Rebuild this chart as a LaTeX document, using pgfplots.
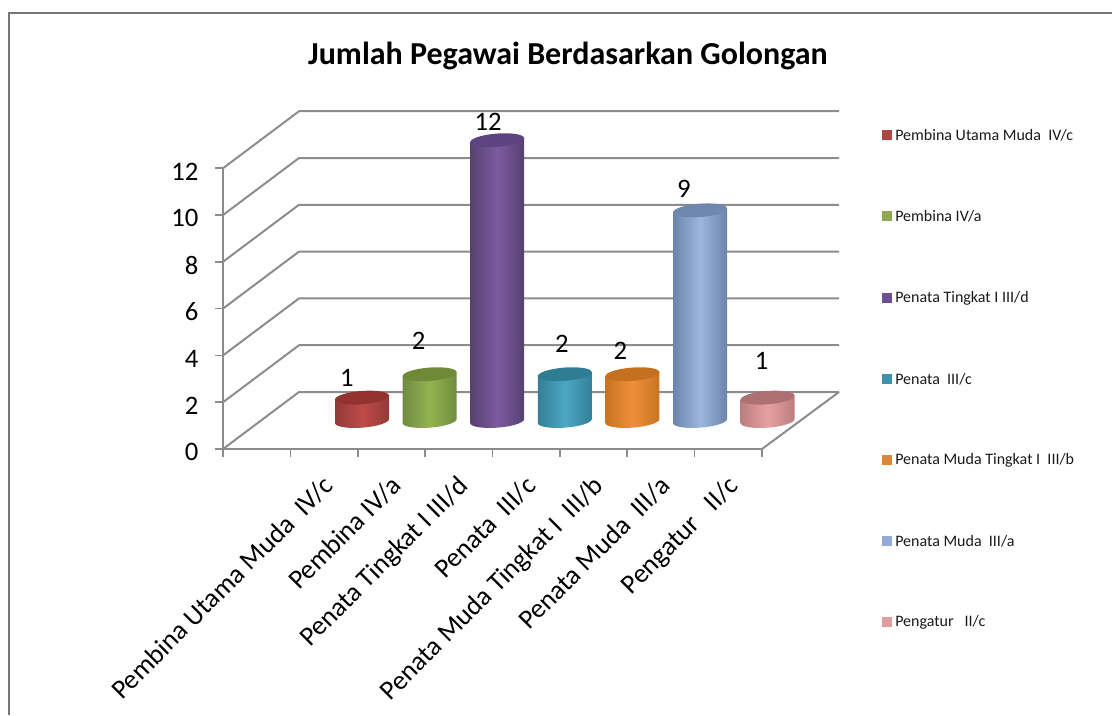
\documentclass[border=0pt]{standalone}
\usepackage{pgfplots}
\pgfplotsset{compat=1.18}
\usepackage{fontspec}
\setmainfont{Carlito}
\definecolor{gridg}{HTML}{8C8C8C}
% a cylinder mark: #2 = the value of the bar (17.55pt per unit), drawn from the plotted point down to zero
\newcommand\defcyl[5]{%
  \definecolor{e#1}{HTML}{#3}\definecolor{m#1}{HTML}{#4}\definecolor{c#1}{HTML}{#5}%
  \pgfdeclarehorizontalshading{sh#1}{100bp}{color(0bp)=(e#1); color(25bp)=(e#1); color(50bp)=(m#1); color(75bp)=(e#1); color(100bp)=(e#1)}%
  \pgfdeclareplotmark{cyl#1}{%
    \pgfmathsetlengthmacro\hh{#2*17.55}%
    \pgfscope
    \pgfpathmoveto{\pgfqpoint{-20.25pt}{\dimexpr-\hh-1.486pt\relax}}%
    \pgfpathcurveto{\pgfqpoint{-20.25pt}{\dimexpr-\hh-4.246pt\relax}}{\pgfqpoint{-11.18pt}{\dimexpr-\hh-5.82pt\relax}}{\pgfqpoint{0pt}{\dimexpr-\hh-5pt\relax}}%
    \pgfpathcurveto{\pgfqpoint{11.18pt}{\dimexpr-\hh-4.18pt\relax}}{\pgfqpoint{20.25pt}{\dimexpr-\hh-1.274pt\relax}}{\pgfqpoint{20.25pt}{\dimexpr-\hh+1.486pt\relax}}%
    \pgfpathlineto{\pgfqpoint{20.25pt}{1.486pt}}%
    \pgfpathlineto{\pgfqpoint{-20.25pt}{-1.486pt}}%
    \pgfpathclose
    \pgfshadepath{sh#1}{0}%
    \pgfusepath{discard}%
    \endpgfscope
    \pgfscope
    \pgfpathellipse{\pgfpointorigin}{\pgfqpoint{20.25pt}{1.486pt}}{\pgfqpoint{0pt}{5pt}}%
    \pgfsetfillcolor{c#1}\pgfusepath{fill}%
    \endpgfscope
  }%
}
\defcyl{a}{1}{923A38}{BE4B48}{94322F}
\defcyl{b}{2}{708B40}{93B350}{6F8A37}
\defcyl{c}{12}{55416F}{7D5AA0}{5D4380}
\defcyl{d}{2}{347F97}{4BA7C4}{2F7D95}
\defcyl{e}{2}{C87323}{EE9038}{C4701F}
\defcyl{f}{9}{6A85AC}{9DB8DE}{6F87AD}
\defcyl{g}{1}{BA7E7F}{E8A0A2}{AE7072}
\pgfplotsset{
  cyl/.style n args={3}{only marks,mark=cyl#1,point meta=y,
     nodes near coords,
     every node near coord/.append style={anchor=center,xshift=#2*0.75pt,yshift=#3*0.75pt,
       font=\fontsize{20}{20}\selectfont,text=black,inner sep=0pt}},
}
\begin{document}
\begin{tikzpicture}
\begin{scope}[x=0.75pt,y=-0.75pt]
\path[use as bounding box] (0,0) rectangle (1112,715);
\draw[gridg!85!black,line width=1.5pt] (8.5,715) -- (8.5,12.5) -- (1112,12.5);
\foreach \v in {0,...,6}{
  \draw[gridg,line width=1.5pt] (223,{449-46.8*\v}) -- (299,{392-46.8*\v}) -- (839,{392-46.8*\v});
}
\draw[gridg,line width=1.5pt] (762,449) -- (839,392);
\node[font=\fontsize{24}{24}\selectfont\bfseries] at (568,56) {Jumlah Pegawai Berdasarkan Golongan};
\foreach \yy/\cc/\tt in {135/B04644/{Pembina Utama Muda\ \ IV/c},216/8DAA52/{Pembina IV/a},298/6F4E93/{Penata Tingkat I III/d},379/3C93AE/{Penata\ \ III/c},460/E2862F/{Penata Muda Tingkat I\ \ III/b},541/92ABD6/{Penata Muda\ \ III/a},622/E09C9E/{Pengatur\ \ \ II/c}}{
  \definecolor{lg}{HTML}{\cc}
  \fill[lg] (882,\yy-5) rectangle (892,\yy+5);
  \node[anchor=west,inner sep=0pt,font=\fontsize{12}{12}\selectfont,text=black!90] at (895,\yy) {\tt};
}
\end{scope}
\begin{axis}[
  at={(223*0.75pt,-449*0.75pt)},anchor=south west,
  scale only axis,width=404.25pt,height=210.6pt,
  xmin=0,xmax=8,ymin=0,ymax=12,
  axis lines*=left,
  axis line style={gridg,line width=1.5pt,-},
  xtick={0,1,2,3,4,5,6,7,8},
  xticklabels={},
  extra x ticks={1.5,2.5,3.5,4.5,5.5,6.5,7.5},
  extra x tick labels={{Pembina Utama Muda\ \ IV/c},{Pembina IV/a},{Penata Tingkat I III/d},{Penata\ \ III/c},{Penata Muda Tingkat I\ \ III/b},{Penata Muda\ \ III/a},{Pengatur\ \ \ II/c}},
  extra x tick style={major tick length=0pt,
    xticklabel style={rotate=45,anchor=north east,inner sep=0pt,xshift=-14.5pt,yshift=-12pt,font=\fontsize{20.3}{20.3}\selectfont}},
  major tick length=6pt,
  tick align=outside,
  xtick style={gridg,line width=1.2pt},
  ytick={0,2,4,6,8,10,12},
  ytick style={gridg,line width=1.2pt},
  tick label style={font=\fontsize{20}{20}\selectfont},
  /pgf/number format/assume math mode=true,
  yticklabel style={xshift=-9pt,yshift=-2.5pt},
  clip=false,
]
\end{axis}
\begin{axis}[
  at={(362*0.75pt,-421*0.75pt)},anchor=south west,
  scale only axis,width=304.2pt,height=210.6pt,
  xmin=0,xmax=6,ymin=0,ymax=12,
  axis lines=none,clip=false,
  /pgf/number format/assume math mode=true,
]
\addplot[cyl={a}{-15}{20}] coordinates {(0,1)};
\addplot[cyl={b}{-11}{33}] coordinates {(1,2)};
\addplot[cyl={c}{-9}{18}] coordinates {(2,12)};
\addplot[cyl={d}{-3}{30}] coordinates {(3,2)};
\addplot[cyl={e}{-12}{23}] coordinates {(4,2)};
\addplot[cyl={f}{-16}{22}] coordinates {(5,9)};
\addplot[cyl={g}{-6}{37}] coordinates {(6,1)};
\end{axis}
\end{tikzpicture}
\end{document}
